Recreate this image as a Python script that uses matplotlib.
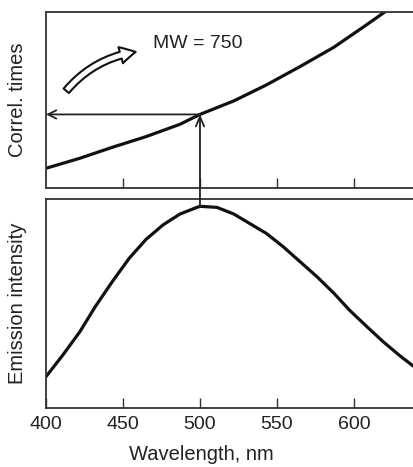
import matplotlib
matplotlib.use("Agg")
import matplotlib.pyplot as plt
from matplotlib.patches import FancyArrowPatch

plt.rcParams['font.family'] = ['Liberation Sans', 'DejaVu Sans']

# Curves (wavelength in nm, y in relative units)
wl_top = [400, 422, 443, 465, 487, 500, 522, 543, 565, 587, 608, 620, 630]
correl_times = [0.112, 0.169, 0.231, 0.292, 0.362, 0.418, 0.495, 0.585, 0.69,
                0.80, 0.926, 1.0, 1.065]

wl_bot = [400, 411, 422, 432, 443, 454, 465, 476, 487, 497, 500, 511, 522,
          532, 543, 554, 565, 576, 587, 597, 608, 619, 630, 639]
emission = [0.15, 0.254, 0.365, 0.485, 0.604, 0.716, 0.807, 0.876, 0.928,
            0.957, 0.965, 0.96, 0.928, 0.884, 0.836, 0.772, 0.70, 0.628,
            0.549, 0.469, 0.392, 0.317, 0.249, 0.198]

ticks = [450, 500, 550, 600]
tick_labels_at = [400, 450, 500, 550, 600]
peak_wl = 500
peak_corr = 0.418
peak_em = 0.965
mw_label = "MW = 750"

W, H = 414, 467
fig = plt.figure(figsize=(W / 100, H / 100), dpi=100)


def px_rect(left, top, right, bottom):
    return [left / W, 1 - bottom / H, (right - left) / W, (bottom - top) / H]


ax_top = fig.add_axes(px_rect(46, 12, 414, 188))
ax_bot = fig.add_axes(px_rect(46, 199, 414, 408))

spine_col = "#333333"
for ax in (ax_top, ax_bot):
    ax.set_xlim(400, 639)
    ax.set_ylim(0, 1)
    ax.spines['right'].set_visible(False)
    for s in ('left', 'top', 'bottom'):
        ax.spines[s].set_color(spine_col)
        ax.spines[s].set_linewidth(1.3)
    ax.set_yticks([])
    ax.tick_params(axis='x', direction='in', length=7, width=1.0,
                   color=spine_col, labelsize=14, labelcolor="#222222", pad=6)

ax_top.plot(wl_top, correl_times, color="#111111", lw=2.3,
            solid_joinstyle='round')
ax_top.set_xticks(ticks)
ax_top.set_xticklabels([])

ax_bot.plot(wl_bot, emission, color="#111111", lw=2.3, solid_joinstyle='round')
ax_bot.set_xticks(tick_labels_at)
ax_bot.set_xticklabels([str(t) for t in tick_labels_at])

# horizontal arrow to the y axis
ax_top.annotate("", xy=(400, peak_corr), xytext=(peak_wl, peak_corr),
                arrowprops=dict(arrowstyle="->,head_length=0.6,head_width=0.3",
                                color="#222222", lw=1.3, shrinkA=0, shrinkB=0))
# vertical arrow from the emission peak up to the correlation curve
ax_bot.annotate("", xy=(peak_wl, peak_corr), xycoords=ax_top.transData,
                xytext=(peak_wl, peak_em), textcoords=ax_bot.transData,
                arrowprops=dict(arrowstyle="->,head_length=0.7,head_width=0.3",
                                color="#222222", lw=1.3, shrinkA=0, shrinkB=0),
                annotation_clip=False)

# curved open arrow
fat = FancyArrowPatch((412, 0.54), (460, 0.775),
                      arrowstyle="simple,head_length=11,head_width=12,tail_width=5",
                      connectionstyle="arc3,rad=-0.2",
                      facecolor="white", edgecolor="#111111", lw=1.5,
                      mutation_scale=1, transform=ax_top.transData)
ax_top.add_patch(fat)

fig.text(153 / W, 1 - 44 / H, mw_label, fontsize=14, color="#222222",
         ha='left', va='center')

fig.text(18 / W, 1 - 100 / H, "Correl. times", rotation=90, fontsize=14.5,
         color="#222222", ha='center', va='center')
fig.text(18 / W, 1 - 303 / H, "Emission intensity", rotation=90, fontsize=14.5,
         color="#222222", ha='center', va='center')
fig.text(201 / W, 1 - 455 / H, "Wavelength, nm", fontsize=14.5,
         color="#222222", ha='center', va='center')

fig.savefig("out.png", dpi=100)
